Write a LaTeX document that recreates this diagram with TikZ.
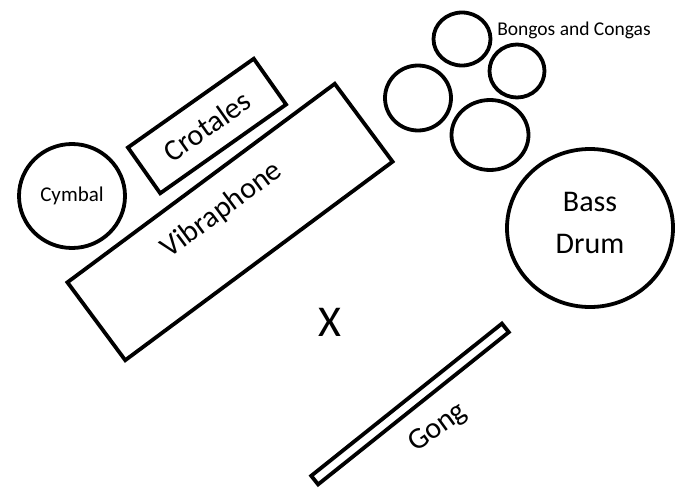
\documentclass[tikz,border=0pt]{standalone}
\usepackage{fontspec}
\setmainfont{Carlito}
\usetikzlibrary{shapes.geometric, positioning}

\begin{document}
\begin{tikzpicture}[
    x=1pt, y=-1pt,
    drum/.style={ellipse, draw=black, line width=3.8pt, inner sep=0pt},
    bar/.style={rectangle, draw=black, line width=3.8pt, inner sep=0pt},
    small/.style={font=\fontsize{21}{24}\selectfont},
    big/.style={font=\fontsize{30}{42}\selectfont}
  ]
  \useasboundingbox (0,0) rectangle (682,487);

  % percussion set-up
  \node[drum, minimum width=106, minimum height=104, small] (cym) at (72,196) {Cymbal};
  \node[bar, minimum width=154, minimum height=56, rotate=35.2, big] (crot) at (207,126) {Crotales};
  \node[bar, minimum width=333, minimum height=97, rotate=36.6] (vib) at (230,222) {};
  \node[rotate=36.6, big] (vibtxt) at (222,210) {Vibraphone};

  \node[drum, minimum width=57, minimum height=53] (bongo1) at (462,39) {};
  \node[drum, minimum width=55, minimum height=53] (bongo2) at (517,71) {};
  \node[drum, minimum width=66, minimum height=65] (conga1) at (418,98) {};
  \node[drum, minimum width=77, minimum height=70] (conga2) at (490,135) {};
  \node[font=\fontsize{19.5}{22}\selectfont] (bctxt) at (574,30) {Bongos and Congas};

  \node[drum, minimum width=166, minimum height=158] (bass) at (590,228) {};
  \node[big, align=center] (basstxt) at (590,223) {Bass\\Drum};

  \node[font=\fontsize{44}{50}\selectfont] (pos) at (330,322) {X};

  \node[bar, minimum width=244, minimum height=11, rotate=38.6] (gong) at (410,404) {};
  \node[rotate=36, big] (gongtxt) at (438,428) {Gong};

\end{tikzpicture}
\end{document}
